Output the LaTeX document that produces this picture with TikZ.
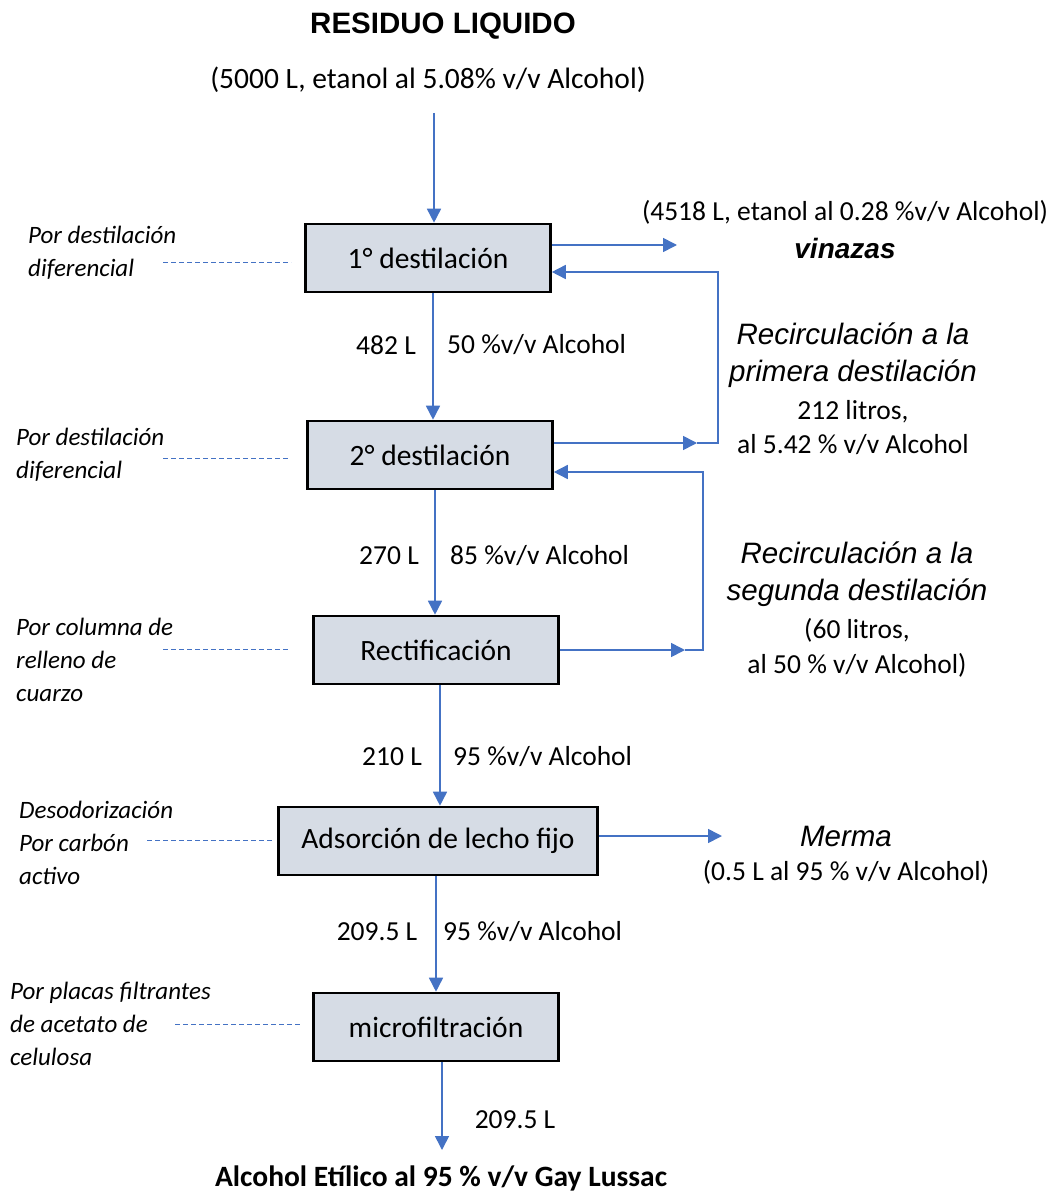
\documentclass[tikz,border=0pt]{standalone}
\usepackage{fontspec}
\setmainfont{Carlito}
\newfontfamily\arialfont{Liberation Sans}
\usetikzlibrary{positioning,arrows.meta}
\definecolor{flowblue}{HTML}{4472C4}
\definecolor{boxfill}{HTML}{D6DCE5}

\begin{document}
\begin{tikzpicture}[
		x={(1pt,0pt)},
		y={(0pt,-1pt)},
		proc/.style={draw=black,line width=2.6pt,fill=boxfill,minimum width=245pt,minimum height=68pt,inner sep=0pt,font=\fontsize{29.5}{34}\selectfont},
		flow/.style={draw=flowblue,line width=1.6pt,-{Triangle[length=14pt,width=14pt]}},
		guide/.style={draw=flowblue,line width=1pt,dash pattern=on 5pt off 3pt},
		txt/.style={font=\fontsize{29.5}{34}\selectfont,inner sep=0pt},
		qty/.style={font=\fontsize{27.5}{34}\selectfont,inner sep=0pt},
		note/.style={font=\fontsize{25}{33}\selectfont\itshape,align=left,anchor=west,inner sep=0pt},
		side/.style={font=\arialfont\fontsize{29.5}{37}\selectfont\itshape,inner sep=0pt},
	]
		\useasboundingbox (0,0) rectangle (1051,1193);

		% feed
		\node[font=\arialfont\bfseries\fontsize{29.5}{34}\selectfont,inner sep=0pt] (title) at (443,26) {RESIDUO LIQUIDO};
		\node[txt] (feed) at (428,80) {(5000 L, etanol al 5.08\% v/v Alcohol)};

		% process steps
		\node[proc] (dest1) at (428,258) {1° destilación};
		\node[proc] (dest2) at (430,455) {2° destilación};
		\node[proc] (rect) at (436,650) {Rectificación};
		\node[proc,minimum width=319pt] (ads) at (438,841) {Adsorción de lecho fijo};
		\node[proc] (micro) at (436,1027) {microfiltración};
		\node[font=\bfseries\fontsize{29.5}{34}\selectfont,inner sep=0pt] (prod) at (441,1178) {Alcohol Etílico al 95 \% v/v Gay Lussac};

		% main line
		\coordinate (in) at (434,113);
		\coordinate (out) at (442,1150);
		\draw[flow] (in) -- (in |- dest1.north);
		\draw[flow] ([xshift=5pt]dest1.south) -- ([xshift=5pt]dest1.south |- dest2.north);
		\draw[flow] ([xshift=5pt]dest2.south) -- ([xshift=5pt]dest2.south |- rect.north);
		\draw[flow] ([xshift=4pt]rect.south) -- ([xshift=4pt]rect.south |- ads.north);
		\draw[flow] ([xshift=-2pt]ads.south) -- ([xshift=-2pt]ads.south |- micro.north);
		\draw[flow] ([xshift=6pt]micro.south) -- (out);

		% flow labels
		\foreach \y/\vol/\vx/\pct/\px in {345/482 L/386/50/447, 556/270 L/389/85/450, 757/210 L/392/95/453, 932/209.5 L/377/95/443}{
			\node[qty] at (\vx,\y) {\vol};
			\node[qty,anchor=west] at (\px,\y) {\pct\ \%v/v Alcohol};
		}
		\node[qty] (last) at (515,1120) {209.5 L};

		% vinazas
		\coordinate (vin) at (677,245);
		\draw[flow] (dest1.east |- vin) -- (vin);
		\node[qty] (vinq) at (845,212) {(4518 L, etanol al 0.28 \%v/v Alcohol)};
		\node[font=\arialfont\bfseries\itshape\fontsize{28}{32}\selectfont,inner sep=0pt] (vinn) at (845,248) {vinazas};

		% first recirculation
		\coordinate (r1a) at (697,443);
		\coordinate (r1b) at (718,443);
		\coordinate (r1c) at (718,272);
		\draw[flow] (dest2.east |- r1a) -- (r1a);
		\draw[flow] (r1a) -- (r1b) -- (r1c) -- (dest1.east |- r1c);
		\node[side,align=center] (rec1) at (853,355) {Recirculación a la\\primera destilación};
		\node[qty,align=center] (rec1q) at (853,428) {212 litros,\\al 5.42 \% v/v Alcohol};

		% second recirculation
		\coordinate (r2a) at (685,650);
		\coordinate (r2b) at (703,650);
		\coordinate (r2c) at (703,472);
		\draw[flow] (rect.east |- r2a) -- (r2a);
		\draw[flow] (r2a) -- (r2b) -- (r2c) -- (dest2.east |- r2c);
		\node[side,align=center] (rec2) at (857,574) {Recirculación a la\\segunda destilación};
		\node[qty,align=center,font=\fontsize{27.5}{35}\selectfont] (rec2q) at (857,648) {(60 litros,\\al 50 \% v/v Alcohol)};

		% merma
		\coordinate (mer) at (722,836);
		\draw[flow] (ads.east |- mer) -- (mer);
		\node[side] (merma) at (846,836) {Merma};
		\node[qty] (mermaq) at (846,872) {(0.5 L al 95 \% v/v Alcohol)};

		% method notes
		\foreach \n/\lx/\ly/\da/\db/\dy/\t in {1/28/253/163/291/262/{Por destilación\\diferencial},
			2/16/455/163/290/458/{Por destilación\\diferencial},
			3/16/660/163/288/649/{Por columna de\\relleno de\\cuarzo},
			4/19/843/147/272/840/{Desodorización\\Por carbón\\activo},
			5/10/1024/175/300/1024/{Por placas filtrantes\\de acetato de\\celulosa}}{
			\node[note] (note\n) at (\lx,\ly) {\t};
			\coordinate (ga\n) at (\da,\dy);
			\coordinate (gb\n) at (\db,\dy);
			\draw[guide] (ga\n) -- (gb\n);
		}
	\end{tikzpicture}
\end{document}
